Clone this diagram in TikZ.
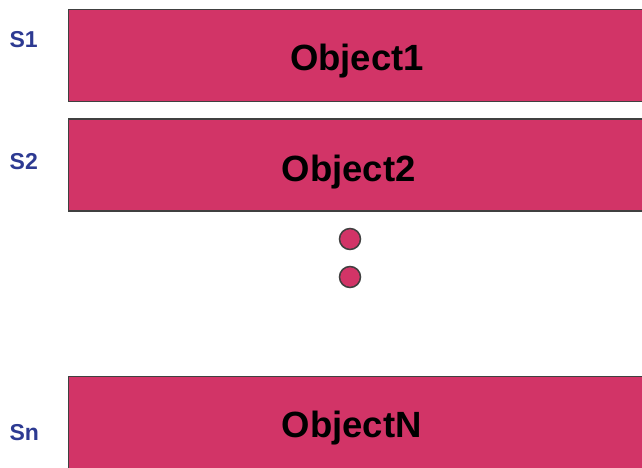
\documentclass[tikz,border=0pt]{standalone}
\usepackage{fontspec}
\setmainfont{Liberation Sans}
\definecolor{objfill}{HTML}{D23467}
\definecolor{objline}{HTML}{404040}
\definecolor{lblblue}{HTML}{2D3A92}
\begin{document}
\begin{tikzpicture}[x=1pt,y=-1pt,
  objbox/.style={fill=objfill,draw=objline,line width=1.5pt},
  objtext/.style={font=\fontsize{36.5}{40}\selectfont\bfseries,text=black,anchor=base,inner sep=0pt},
  slabel/.style={font=\fontsize{23}{26}\selectfont\bfseries,text=lblblue,anchor=base west,inner sep=0pt},
  dot/.style={circle,fill=objfill,draw=objline,line width=1.5pt,minimum size=21pt,inner sep=0pt}]
\useasboundingbox (0,0) rectangle (642,468);
\clip (0,0) rectangle (642,468);
\draw[objbox] (68.5,9.5) rectangle (660,101.5);
\draw[objbox] (68.5,119) rectangle (660,211);
\draw[objbox] (68.5,376.5) rectangle (660,490);
\node[objtext] (o1) at (357,71) {Object1};
\node[objtext] (o2) at (348.7,181) {Object2};
\node[objtext] (on) at (351.7,437) {ObjectN};
\node[slabel] (s1) at (9.3,48) {S1};
\node[slabel] (s2) at (9.5,169) {S2};
\node[slabel] (sn) at (9.3,440) {Sn};
\node[dot] (d1) at (350,239) {};
\node[dot] (d2) at (350,277) {};
\end{tikzpicture}
\end{document}
